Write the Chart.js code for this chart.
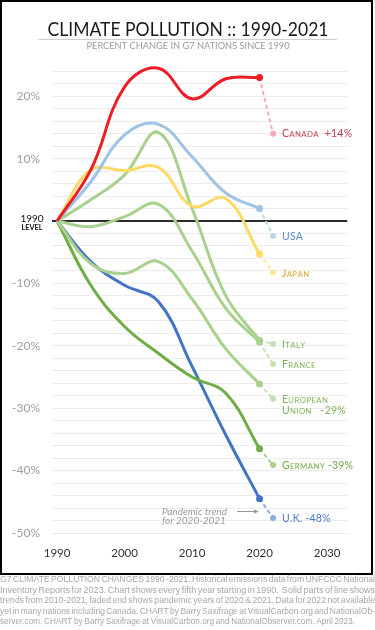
<!DOCTYPE html>
<html>
<head>
<meta charset="utf-8">
<script src="https://cdn.jsdelivr.net/npm/chart.js"></script>
<style>
  html, body { margin: 0; padding: 0; background: #fff; }
  canvas { display: block; }
</style>
</head>
<body>
<canvas id="chart" width="375" height="630"></canvas>
<script>
// every fifth year, last solid point is the 2019 figure, faded end is 2021 (pandemic)
const years = [1990, 1995, 2000, 2005, 2010, 2015, 2020];
const fadeYear = 2022;

const canada  = [0, 8.2, 21.5, 24.5, 19.6, 22.8, 23.0];
const usa     = [0, 6.3, 13.8, 15.5, 10.3, 4.5, 2.0];
const japan   = [0, 8.2, 8.1, 8.6, 2.4, 3.6, -5.3];
const italy   = [0, 3.4, 7.4, 14.2, 2.0, -12.0, -19.1];
const france  = [0, -0.9, 0.7, 2.7, -4.8, -14.0, -19.4];
const eu      = [0, -6.8, -8.4, -6.5, -12.5, -20.5, -26.1];
const germany = [0, -10.3, -16.9, -21.2, -25.0, -27.6, -36.5];
const uk      = [0, -6.5, -10.3, -12.9, -23.3, -34.3, -44.5];

// 2021 values, same order as the series below
const pandemic = [14, -2.4, -8.3, -19.7, -22.9, -28.5, -39.1, -47.6];
const names = ['Canada  +14%', 'USA', 'Japan', 'Italy', 'France', 'European\nUnion   -29%', 'Germany -39%', 'U.K. -48%'];

const xTicks = [1990, 2000, 2010, 2020, 2030];
const yLabelled = [20, 10, -10, -20, -30, -40, -50];

const footer = [
  'G7 CLIMATE POLLUTION CHANGES 1990 -2021. Historical emissions data from UNFCCC National',
  'Inventory Reports for 2023. Chart shows every fifth year starting in 1990.  Solid parts of line shows',
  'trends from 2010-2021, faded end shows pandemic years of 2020 & 2021. Data for 2022 not available',
  'yet in many nations including Canada. CHART by Barry Saxifrage at VisualCarbon.org and NationalOb-',
  'server.com. CHART by Barry Saxifrage at VisualCarbon.org and NationalObserver.com. April 2023.'
];

const series = [
  { v: canada,  line: '#EE1C25', fade: '#F6AAB5', text: '#C23B4F' },
  { v: usa,     line: '#9DC3E6', fade: '#BDD7EE', text: '#5B8FCB' },
  { v: japan,   line: '#FFD966', fade: '#FFE699', text: '#D8A928' },
  { v: italy,   line: '#A9D18E', fade: '#C5E0B4', text: '#7DB35A' },
  { v: france,  line: '#A9D18E', fade: '#C5E0B4', text: '#7DB35A' },
  { v: eu,      line: '#A9D18E', fade: '#C5E0B4', text: '#7DB35A' },
  { v: germany, line: '#70AD47', fade: '#A9D18E', text: '#6DAA47' },
  { v: uk,      line: '#4472C4', fade: '#8FAADC', text: '#4A78C8' }
];

const datasets = [];
series.forEach((s, i) => {
  const last = years.length - 1;
  datasets.push({
    data: years.map((x, k) => ({ x: x, y: s.v[k] })),
    borderColor: s.line,
    borderWidth: 3,
    tension: 0.4,
    pointRadius: years.map((_, k) => k === last ? 3.5 : 0),
    pointBackgroundColor: s.line,
    pointBorderWidth: 0,
    clip: false
  });
  datasets.push({
    data: [{ x: years[last], y: s.v[last] }, { x: fadeYear, y: pandemic[i] }],
    borderColor: s.fade,
    borderWidth: 2,
    borderDash: [4, 3],
    pointRadius: [0, 3],
    pointBackgroundColor: s.fade,
    pointBorderWidth: 0,
    clip: false
  });
});

function drawSmallCaps(ctx, text, x, y, color) {
  ctx.fillStyle = color;
  ctx.textBaseline = 'alphabetic';
  ctx.textAlign = 'left';
  for (const ch of text) {
    const small = ch !== ch.toUpperCase();
    ctx.font = small ? '7.8px Lato' : '10.5px Lato';
    const c = ch.toUpperCase();
    ctx.fillText(c, x, y);
    x += ctx.measureText(c).width + (small ? 0.4 : 0.2);
  }
}

function fitText(ctx, text, cx, y, width) {
  const w = ctx.measureText(text).width;
  ctx.save();
  ctx.translate(cx, y);
  ctx.scale(width / w, 1);
  ctx.textAlign = 'center';
  ctx.fillText(text, 0, 0);
  ctx.restore();
}

// justified footer text, squeezed sideways when it would not fit
function justifyLine(ctx, line, left, right, y, full) {
  const words = line.split(' ');
  const ww = words.map(w => ctx.measureText(w).width);
  const sum = ww.reduce((a, b) => a + b, 0);
  const sp = ctx.measureText(' ').width;
  const room = right - left;
  let sx, gap;
  if (full) {
    sx = Math.min(1, room / (sum + sp * 0.6 * (words.length - 1)));
    gap = (room / sx - sum) / (words.length - 1);
  } else {
    gap = sp * 0.8;
    sx = Math.min(1, (room - 20) / (sum + gap * (words.length - 1)));
  }
  ctx.save();
  ctx.translate(left, y);
  ctx.scale(sx, 1);
  let x = 0;
  words.forEach((w, k) => {
    ctx.fillText(w, x, 0);
    x += ww[k] + gap;
  });
  ctx.restore();
}

const decorations = {
  id: 'decorations',
  afterDraw(chart) {
    const ctx = chart.ctx;
    const xs = chart.scales.x, ys = chart.scales.y;
    ctx.save();

    // frame
    ctx.strokeStyle = '#000';
    ctx.lineWidth = 2;
    ctx.strokeRect(1, 1, 371, 573);

    // title
    ctx.fillStyle = '#1a1a1a';
    ctx.font = '20px Lato';
    ctx.textBaseline = 'alphabetic';
    fitText(ctx, 'CLIMATE POLLUTION :: 1990-2021', 188, 36, 281);
    ctx.strokeStyle = '#cfcfcf';
    ctx.lineWidth = 1;
    ctx.beginPath();
    ctx.moveTo(38, 39.5);
    ctx.lineTo(337, 39.5);
    ctx.stroke();
    ctx.fillStyle = '#9a9a9a';
    ctx.font = '9px Lato';
    fitText(ctx, 'PERCENT CHANGE IN G7 NATIONS SINCE 1990', 188, 48.5, 203);

    // 1990 level label
    ctx.fillStyle = '#111';
    ctx.textAlign = 'center';
    ctx.font = '10px Lato';
    ctx.fillText('1990', 32, ys.getPixelForValue(0) + 0.5);
    ctx.font = 'bold 7px Lato';
    fitText(ctx, 'LEVEL', 32, ys.getPixelForValue(0) + 9, 21);

    // end labels
    series.forEach((s, i) => {
      const x = xs.getPixelForValue(fadeYear) + 9;
      const y = ys.getPixelForValue(pandemic[i]) + 3.8;
      names[i].split('\n').forEach((ln, k) => {
        drawSmallCaps(ctx, ln, x, y + k * 11, s.text);
      });
    });

    // pandemic note
    ctx.fillStyle = '#9a9a9a';
    ctx.font = 'italic 10px Lato';
    ctx.textAlign = 'left';
    ctx.fillText('Pandemic trend', 162, 515);
    ctx.fillText('for 2020-2021', 162, 524);
    ctx.strokeStyle = '#999';
    ctx.lineWidth = 1;
    ctx.beginPath();
    ctx.moveTo(237, 511.5);
    ctx.lineTo(257, 511.5);
    ctx.stroke();
    ctx.beginPath();
    ctx.moveTo(259, 511.5);
    ctx.lineTo(254, 509.5);
    ctx.lineTo(254, 513.5);
    ctx.closePath();
    ctx.fillStyle = '#999';
    ctx.fill();

    // footer
    ctx.fillStyle = '#a8a8a8';
    ctx.font = '9.6px "Liberation Sans"';
    ctx.textBaseline = 'middle';
    ctx.textAlign = 'left';
    footer.forEach((ln, k) => {
      justifyLine(ctx, ln, 0, 375, 579.5 + k * 10.5, k < footer.length - 1);
    });

    ctx.restore();
  }
};

new Chart('chart', {
  type: 'line',
  data: { datasets: datasets },
  options: {
    responsive: false,
    animation: false,
    events: [],
    layout: { padding: { top: 58.8, right: 27.7, bottom: 57, left: 0 } },
    plugins: {
      legend: { display: false },
      tooltip: { enabled: false }
    },
    scales: {
      x: {
        type: 'linear',
        min: 1989.25,
        max: 2033,
        afterBuildTicks: scale => { scale.ticks = xTicks.map(v => ({ value: v })); },
        afterFit: scale => { scale.height = 40; },
        grid: { display: false, drawTicks: false },
        border: { display: false },
        ticks: {
          padding: 13,
          color: '#333',
          font: { family: 'Lato', size: 11.5 },
          maxRotation: 0,
          autoSkip: false,
          callback: v => String(v)
        }
      },
      y: {
        min: -50,
        max: 26,
        afterFit: scale => { scale.width = 52; },
        grid: {
          drawTicks: false,
          color: c => c.tick.value === 0 ? '#2b2b2b' : (c.tick.value === 26 ? 'rgba(0,0,0,0)' : '#ececec'),
          lineWidth: c => c.tick.value === 0 ? 2 : 1
        },
        border: { display: false },
        ticks: {
          stepSize: 2,
          autoSkip: false,
          padding: 12,
          color: '#a0a0a0',
          font: { family: 'Lato', size: 12 },
          callback: v => yLabelled.includes(v) ? v + '%' : ''
        }
      }
    }
  },
  plugins: [decorations]
});
</script>
</body>
</html>
